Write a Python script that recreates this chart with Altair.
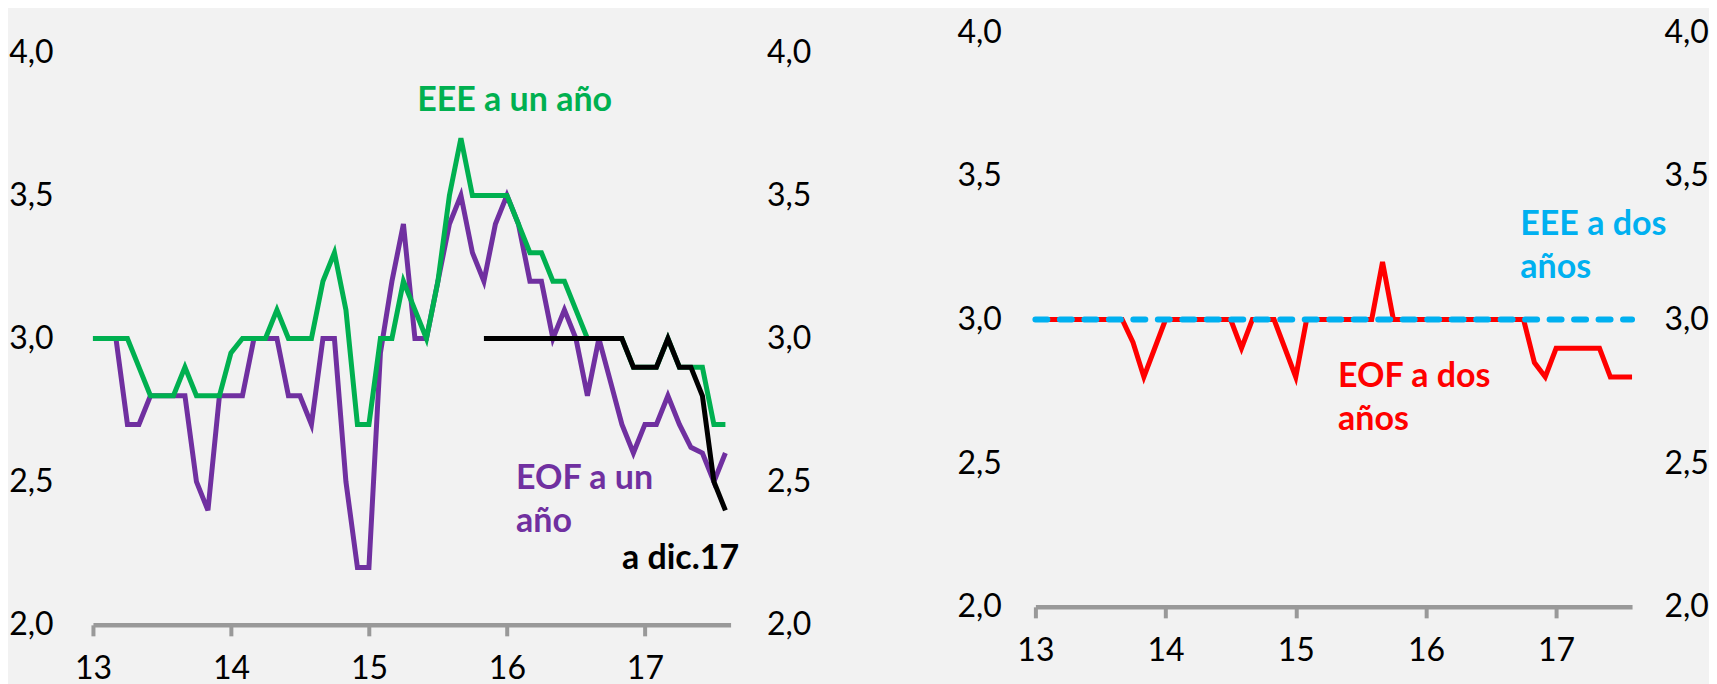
import altair as alt
import pandas as pd

FONT = "Lato"
BG = "#F2F2F2"
AXIS_GRAY = "#999999"

# Monthly categories: Jan 2013 .. Aug 2017 (56 months)
meses = [f"{a}-{m:02d}" for a in range(2013, 2018) for m in range(1, 13)][:56]
idx = list(range(len(meses)))

# Left panel: one-year-ahead expectations
eee_un_ano = [3.0, 3.0, 3.0, 3.0, 2.9, 2.8, 2.8, 2.8, 2.9, 2.8, 2.8, 2.8,
              2.95, 3.0, 3.0, 3.0, 3.1, 3.0, 3.0, 3.0, 3.2, 3.3, 3.1, 2.7,
              2.7, 3.0, 3.0, 3.2, 3.1, 3.0, 3.2, 3.5, 3.7, 3.5, 3.5, 3.5,
              3.5, 3.4, 3.3, 3.3, 3.2, 3.2, 3.1, 3.0, 3.0, 3.0, 3.0, 2.9,
              2.9, 2.9, 3.0, 2.9, 2.9, 2.9, 2.7, 2.7]
eof_un_ano = [3.0, 3.0, 3.0, 2.7, 2.7, 2.8, 2.8, 2.8, 2.8, 2.5, 2.4, 2.8,
              2.8, 2.8, 3.0, 3.0, 3.0, 2.8, 2.8, 2.7, 3.0, 3.0, 2.5, 2.2,
              2.2, 2.95, 3.2, 3.4, 3.0, 3.0, 3.2, 3.4, 3.5, 3.3, 3.2, 3.4,
              3.5, 3.4, 3.2, 3.2, 3.0, 3.1, 3.0, 2.8, 3.0, 2.85, 2.7, 2.6,
              2.7, 2.7, 2.8, 2.7, 2.62, 2.6, 2.5, 2.6]
a_dic17 = [None] * 34 + [3.0, 3.0, 3.0, 3.0, 3.0, 3.0, 3.0, 3.0, 3.0, 3.0,
                         3.0, 3.0, 3.0, 2.9, 2.9, 2.9, 3.0, 2.9, 2.9, 2.8,
                         2.5, 2.4]

# Right panel: two-year-ahead expectations
eof_dos_anos = [3.0, 3.0, 3.0, 3.0, 3.0, 3.0, 3.0, 3.0, 3.0, 2.92, 2.8, 2.9,
                3.0, 3.0, 3.0, 3.0, 3.0, 3.0, 3.0, 2.9, 3.0, 3.0, 3.0, 2.9,
                2.8, 3.0, 3.0, 3.0, 3.0, 3.0, 3.0, 3.0, 3.2, 3.0, 3.0, 3.0,
                3.0, 3.0, 3.0, 3.0, 3.0, 3.0, 3.0, 3.0, 3.0, 3.0, 2.85, 2.8,
                2.9, 2.9, 2.9, 2.9, 2.9, 2.8, 2.8, 2.8]
eee_dos_anos = [3.0, 3.0, 3.0, 3.0, 3.0, 3.0, 3.0, 3.0, 3.0, 3.0, 3.0, 3.0,
                3.0, 3.0, 3.0, 3.0, 3.0, 3.0, 3.0, 3.0, 3.0, 3.0, 3.0, 3.0,
                3.0, 3.0, 3.0, 3.0, 3.0, 3.0, 3.0, 3.0, 3.0, 3.0, 3.0, 3.0,
                3.0, 3.0, 3.0, 3.0, 3.0, 3.0, 3.0, 3.0, 3.0, 3.0, 3.0, 3.0,
                3.0, 3.0, 3.0, 3.0, 3.0, 3.0, 3.0, 3.0]

year_ticks = [0, 12, 24, 36, 48]
y_ticks = [2.0, 2.5, 3.0, 3.5, 4.0]

# Annotation labels (placed in data coordinates)
left_labels = pd.DataFrame({
    "i": [28.2, 36.8, 36.8, 46.0],
    "v": [3.83, 2.51, 2.36, 2.23],
    "t": ["EEE a un año", "EOF a un", "año", "a dic.17"],
    "c": ["#00B050", "#7030A0", "#7030A0", "#000000"],
})
right_labels = pd.DataFrame({
    "i": [44.7, 44.7, 27.9, 27.9],
    "v": [3.33, 3.18, 2.80, 2.65],
    "t": ["EEE a dos", "años", "EOF a dos", "años"],
    "c": ["#00B0F0", "#00B0F0", "#FF0000", "#FF0000"],
})


def frame(values):
    df = pd.DataFrame({"i": idx, "mes": meses, "v": values})
    return df.dropna()


def x_enc(domain_max):
    return alt.X(
        "i:Q",
        scale=alt.Scale(domain=[0, domain_max], nice=False, zero=False),
        axis=alt.Axis(
            values=year_ticks,
            labelExpr="'' + (13 + datum.value / 12)",
            title=None, grid=False,
            domainColor=AXIS_GRAY, domainWidth=4.5,
            tickColor=AXIS_GRAY, tickWidth=4, tickSize=11,
            labelFont=FONT, labelFontSize=32, labelColor="#000000",
            labelPadding=18, labelFlush=False, labelOverlap=False,
        ),
    )


def y_enc(domain, orient=None, pad=36):
    if orient is None:
        ax = None
    else:
        ax = alt.Axis(
            orient=orient, values=y_ticks,
            labelExpr="replace(format(datum.value, '.1f'), '.', ',')",
            title=None, grid=False, domain=False, ticks=False,
            labelFont=FONT, labelFontSize=32, labelColor="#000000",
            labelPadding=pad, labelOverlap=False,
        )
    return alt.Y("v:Q", scale=alt.Scale(domain=domain, nice=False, zero=False), axis=ax)


def line(values, color, xmax, ydom, orient=None, pad=36, dash=None, width=5):
    kw = dict(color=color, strokeWidth=width, strokeJoin="miter")
    if dash:
        kw.update(strokeDash=dash, strokeCap="round")
    return alt.Chart(frame(values)).mark_line(**kw).encode(
        x=x_enc(xmax), y=y_enc(ydom, orient, pad)
    )


def labels(df, xmax, ydom):
    return alt.Chart(df).mark_text(
        align="left", baseline="middle", font=FONT, fontSize=34, fontWeight="bold"
    ).encode(
        x=x_enc(xmax), y=y_enc(ydom),
        text="t:N",
        color=alt.Color("c:N", scale=None, legend=None),
    )


L_MAX = 55.45
L_DOM = [2.0, 4.07]
left = alt.layer(
    line(eof_un_ano, "#7030A0", L_MAX, L_DOM, orient="left", pad=40),
    line(eee_un_ano, "#00B050", L_MAX, L_DOM, orient="right", pad=36),
    line(a_dic17, "#000000", L_MAX, L_DOM),
    labels(left_labels, L_MAX, L_DOM),
).resolve_scale(y="independent").properties(width=638, height=593)

R_MAX = 55.0
R_DOM = [2.0, 4.0]
right = alt.layer(
    line(eof_dos_anos, "#FF0000", R_MAX, R_DOM, orient="left", pad=34),
    line(eee_dos_anos, "#00B0F0", R_MAX, R_DOM, orient="right", pad=32,
         dash=[12, 12.5], width=6),
    labels(right_labels, R_MAX, R_DOM),
).resolve_scale(y="independent").properties(width=597, height=575)

chart = alt.hconcat(left, right, spacing=145).configure(
    background=BG,
    padding={"left": 0, "top": 8, "right": 0, "bottom": 0},
).configure_view(stroke=None)

chart.save("out.html", embed_options={"renderer": "svg", "actions": False})
